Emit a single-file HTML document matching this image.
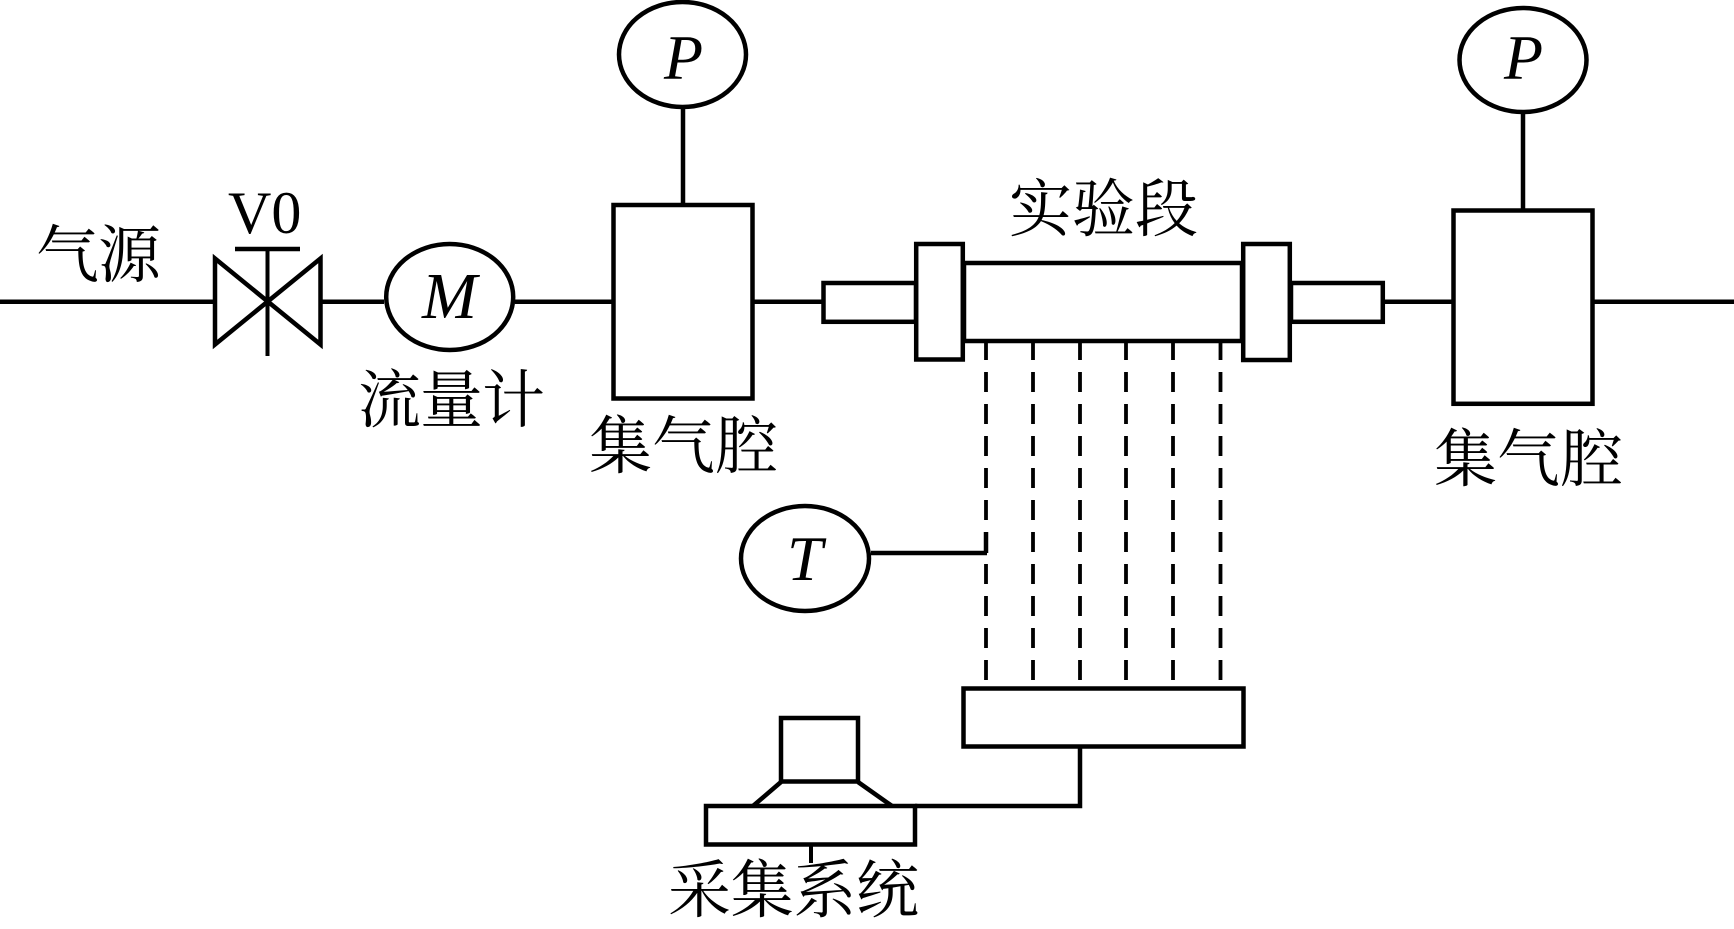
<!DOCTYPE html>
<html><head><meta charset="utf-8">
<style>
html,body{margin:0;padding:0;background:#fff;width:1734px;height:929px;overflow:hidden}
svg{display:block}
.c{font-family:"Liberation Serif","Noto Serif CJK SC",serif;font-size:63px;fill:#000}
.i{font-family:"Liberation Serif",serif;font-style:italic;font-size:64px;fill:#000}
</style></head><body>
<svg width="1734" height="929" viewBox="0 0 1734 929" xmlns="http://www.w3.org/2000/svg">
<g fill="none" stroke="#000" stroke-width="4.500">
<!-- main line -->
<path d="M0 301.700H214M322 301.700H384M515 301.700H612M754 301.700H822M1384 301.700H1452M1594 301.700H1734"/>
<!-- valve -->
<path d="M215 258.500V344.500L320.500 258.500V344.500Z"/>
<path d="M267.500 249V356" stroke-width="4"/>
<path d="M235 249H300"/>
<!-- gauges -->
<ellipse cx="449.700" cy="297" rx="63.500" ry="53"/>
<ellipse cx="682.500" cy="54.500" rx="63.500" ry="52.500"/>
<ellipse cx="1523" cy="60" rx="63.500" ry="52"/>
<ellipse cx="805" cy="558.500" rx="64" ry="52.500"/>
<path d="M683 108V205M1523 113V210M871 553H987"/>
<!-- plenum boxes -->
<rect x="613.500" y="205" width="139" height="193.500"/>
<rect x="1453.500" y="210.500" width="139" height="193.300"/>
<!-- test section -->
<rect x="823.500" y="283" width="92.500" height="38.800"/>
<rect x="1291" y="283" width="91.800" height="38.800"/>
<rect x="964" y="263" width="278" height="78"/>
<rect x="916.200" y="244" width="46.600" height="115.500" fill="#fff"/>
<rect x="1243.200" y="244" width="46.600" height="116" fill="#fff"/>
<!-- dashes -->
<g stroke-dasharray="20 12" stroke-width="3.800">
<path d="M986 343V360M1033 343V360M1080 343V360M1126 343V360M1173 343V360M1220.500 343V360"/>
<path d="M986 372V680M1033 372V680M1080 372V680M1126 372V680M1173 372V680M1220.500 372V680"/>
</g>
<path d="M986 532V553"/>
<!-- DAQ -->
<rect x="963.500" y="688.500" width="280" height="58"/>
<path d="M1080 746V806H915"/>
<rect x="706" y="806" width="209" height="38.500"/>
<rect x="781" y="718" width="77" height="63.500"/>
<path d="M781 782L753 806M858 782L892 806"/>
<path d="M811 846V863" stroke-width="4"/>
</g>
<text class="c" x="36" y="277" textLength="125" lengthAdjust="spacing">气源</text>
<text x="228" y="233" font-family="'Liberation Serif',serif" font-size="60" fill="#000">V0</text>
<text class="i" x="422" y="318" style="font-size:66px">M</text>
<text class="c" x="358" y="422" textLength="187" lengthAdjust="spacing">流量计</text>
<text class="i" x="664" y="79">P</text>
<text class="i" x="1504" y="79">P</text>
<text class="i" x="787" y="580">T</text>
<text class="c" x="589" y="468" textLength="189" lengthAdjust="spacing">集气腔</text>
<text class="c" x="1434" y="481" textLength="189" lengthAdjust="spacing">集气腔</text>
<text class="c" x="1009" y="231" textLength="189" lengthAdjust="spacing">实验段</text>
<text class="c" x="668" y="912" textLength="251" lengthAdjust="spacing">采集系统</text>
</svg>
</body></html>
